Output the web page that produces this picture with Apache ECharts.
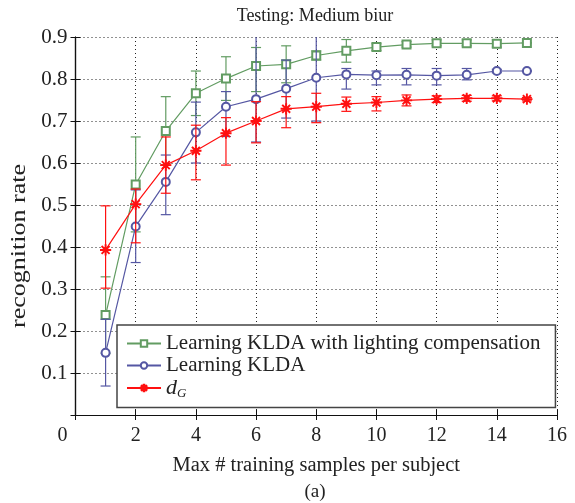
<!DOCTYPE html>
<html><head><meta charset="utf-8">
<script src="https://cdn.jsdelivr.net/npm/echarts@6/dist/echarts.min.js"></script>
<style>html,body{margin:0;padding:0;background:#fff}#c{width:575px;height:503px}</style>
</head><body><div id="c"></div>
<script>
// ---- data ----
const xValues = [1, 2, 3, 4, 5, 6, 7, 8, 9, 10, 11, 12, 13, 14, 15];
const xTicks = [0, 2, 4, 6, 8, 10, 12, 14, 16];
const yTicks = [0, 0.1, 0.2, 0.3, 0.4, 0.5, 0.6, 0.7, 0.8, 0.9];

const seriesNames = ['Learning KLDA with lighting compensation', 'Learning KLDA', 'd_G'];

const greenMean = [0.238, 0.549, 0.676, 0.766, 0.801, 0.831, 0.835, 0.856, 0.867, 0.876, 0.882, 0.885, 0.885, 0.884, 0.886];
const greenLo   = [0.147, 0.436, 0.596, 0.713, 0.749, 0.770, 0.791, 0.845, 0.840, 0.868, 0.876, 0.879, 0.879, 0.876, 0.886];
const greenHi   = [0.329, 0.662, 0.758, 0.819, 0.853, 0.875, 0.879, 0.867, 0.894, 0.884, 0.889, 0.893, 0.893, 0.893, 0.886];

const blueMean = [0.148, 0.449, 0.555, 0.673, 0.734, 0.752, 0.777, 0.803, 0.811, 0.809, 0.810, 0.808, 0.810, 0.819, 0.819];
const blueLo   = [0.069, 0.363, 0.477, 0.600, 0.663, 0.650, 0.707, 0.700, 0.776, 0.786, 0.786, 0.786, 0.798, 0.815, 0.819];
const blueHi   = [0.228, 0.536, 0.619, 0.745, 0.770, 0.950, 0.845, 0.950, 0.825, 0.819, 0.825, 0.825, 0.825, 0.823, 0.819];

const redMean = [0.393, 0.502, 0.595, 0.629, 0.671, 0.700, 0.729, 0.734, 0.741, 0.744, 0.749, 0.752, 0.754, 0.754, 0.752];
const redLo   = [0.302, 0.410, 0.528, 0.560, 0.595, 0.648, 0.684, 0.696, 0.723, 0.724, 0.736, 0.744, 0.747, 0.748, 0.748];
const redHi   = [0.498, 0.538, 0.662, 0.690, 0.708, 0.746, 0.758, 0.766, 0.757, 0.758, 0.762, 0.760, 0.761, 0.760, 0.756];

// ---- styling ----
const FONT = '"Liberation Serif", "DejaVu Serif", serif';
const GREEN = '#629c62', BLUE = '#5557a3', RED = '#ff1010';
const STAR = 'path://M-0.7,-10 L0.7,-10 L0.7,10 L-0.7,10 Z M-10,-0.7 L10,-0.7 L10,0.7 L-10,0.7 Z M-6.6,-7.6 L7.6,6.6 L6.6,7.6 L-7.6,-6.6 Z M-7.6,6.6 L6.6,-7.6 L7.6,-6.6 L-6.6,7.6 Z';

function errSeries(id, color, lo, hi, z) {
  return {
    type: 'custom', name: id, silent: true, clip: true, z: z,
    data: xValues.map((x, i) => [x, lo[i], hi[i]]),
    encode: { x: 0, y: [1, 2] },
    renderItem: function (params, api) {
      const x = api.value(0);
      const p1 = api.coord([x, api.value(1)]);
      const p2 = api.coord([x, api.value(2)]);
      const w = 5;
      const st = { stroke: color, lineWidth: 1.2 };
      return { type: 'group', children: [
        { type: 'line', shape: { x1: p1[0], y1: p1[1], x2: p2[0], y2: p2[1] }, style: st },
        { type: 'line', shape: { x1: p1[0] - w, y1: p1[1], x2: p1[0] + w, y2: p1[1] }, style: st },
        { type: 'line', shape: { x1: p2[0] - w, y1: p2[1], x2: p2[0] + w, y2: p2[1] }, style: st }
      ]};
    }
  };
}
function lineSeries(name, color, mean, symbol, size, z) {
  return {
    type: 'line', name: name, z: z, clip: true,
    data: xValues.map((x, i) => [x, mean[i]]),
    symbol: symbol, symbolSize: size, showAllSymbol: true,
    lineStyle: { color: color, width: 1.2 },
    itemStyle: { color: color, borderColor: color, borderWidth: 1.2 },
    emphasis: { disabled: true }
  };
}

const chart = echarts.init(document.getElementById('c'));
const axisCommon = {
  type: 'value',
  axisLine: { show: true, lineStyle: { color: '#111', width: 1.2 } },
  axisTick: { show: true, inside: true, length: 5, lineStyle: { color: '#111' } },
  splitLine: { show: false }
};
chart.setOption({
  animation: false,
  backgroundColor: '#fff',
  title: [
    { text: 'Testing: Medium biur', left: 310, top: 2, textAlign: 'center',
      textStyle: { fontFamily: FONT, fontSize: 18, fontWeight: 'normal', color: '#222' } },
    { text: '(a)', left: 310, top: 478, textAlign: 'center',
      textStyle: { fontFamily: FONT, fontSize: 19, fontWeight: 'normal', color: '#222' } }
  ],
  grid: { left: 75.5, right: 18, top: 37, bottom: 88 },
  xAxis: [
    Object.assign({}, axisCommon, {
      min: xTicks[0], max: xTicks[xTicks.length - 1], interval: 2, position: 'bottom',
      axisLabel: { fontFamily: FONT, fontSize: 20, color: '#222', margin: 11,
        formatter: v => v === 0 ? '{z|0}' : String(v), rich: { z: { fontFamily: FONT, fontSize: 20, color: '#222', padding: [0, 26, 0, 0] } } },
      splitLine: { show: true, lineStyle: { color: '#222', type: [1, 3], width: 1 } },
      name: 'Max # training samples per subject', nameLocation: 'middle', nameGap: 40,
      nameTextStyle: { fontFamily: FONT, fontSize: 20.5, color: '#222' }
    }),
    Object.assign({}, axisCommon, {
      min: xTicks[0], max: xTicks[xTicks.length - 1], interval: 2, position: 'top',
      axisLabel: { show: false }
    })
  ],
  yAxis: [
    Object.assign({}, axisCommon, {
      min: yTicks[0], max: yTicks[yTicks.length - 1], interval: 0.1, position: 'left',
      axisLabel: { fontFamily: FONT, fontSize: 21, color: '#222', margin: 8,
        formatter: v => v === 0 ? '' : v.toFixed(1) },
      splitLine: { show: true, lineStyle: { color: '#222', type: [1, 3], width: 1 } }
    }),
    Object.assign({}, axisCommon, {
      min: yTicks[0], max: yTicks[yTicks.length - 1], interval: 0.1, position: 'right',
      axisLabel: { show: false }
    })
  ],
  graphic: [
    { type: 'text', x: 20, y: 246, rotation: Math.PI / 2, scaleX: 1.3, scaleY: 1,
      style: { text: 'recognition rate', font: '20px "Liberation Serif"', fill: '#222', textAlign: 'center', textVerticalAlign: 'middle' } }
  ],
  legend: {
    data: seriesNames, orient: 'vertical', left: 117, top: 325,
    backgroundColor: '#fff', borderColor: '#444', borderWidth: 1.5,
    padding: [8, 15, 7, 9], itemGap: 1, itemWidth: 34, itemHeight: 8,
    selectedMode: false,
    textStyle: { fontFamily: FONT, fontSize: 21, color: '#222',
      rich: {
        i: { fontFamily: FONT, fontSize: 22, fontStyle: 'italic', color: '#222' },
        s: { fontFamily: FONT, fontSize: 13, fontStyle: 'italic', color: '#222', padding: [12, 0, 0, 0] }
      } },
    formatter: n => n === 'd_G' ? '{i|d}{s|G}' : n
  },
  series: [
    errSeries('errGreen', GREEN, greenLo, greenHi, 2),
    lineSeries(seriesNames[0], GREEN, greenMean, 'emptyRect', 8, 3),
    errSeries('errBlue', BLUE, blueLo, blueHi, 4),
    lineSeries(seriesNames[1], BLUE, blueMean, 'emptyCircle', 8, 5),
    errSeries('errRed', RED, redLo, redHi, 6),
    lineSeries(seriesNames[2], RED, redMean, STAR, 10, 7)
  ]
});
</script></body></html>
